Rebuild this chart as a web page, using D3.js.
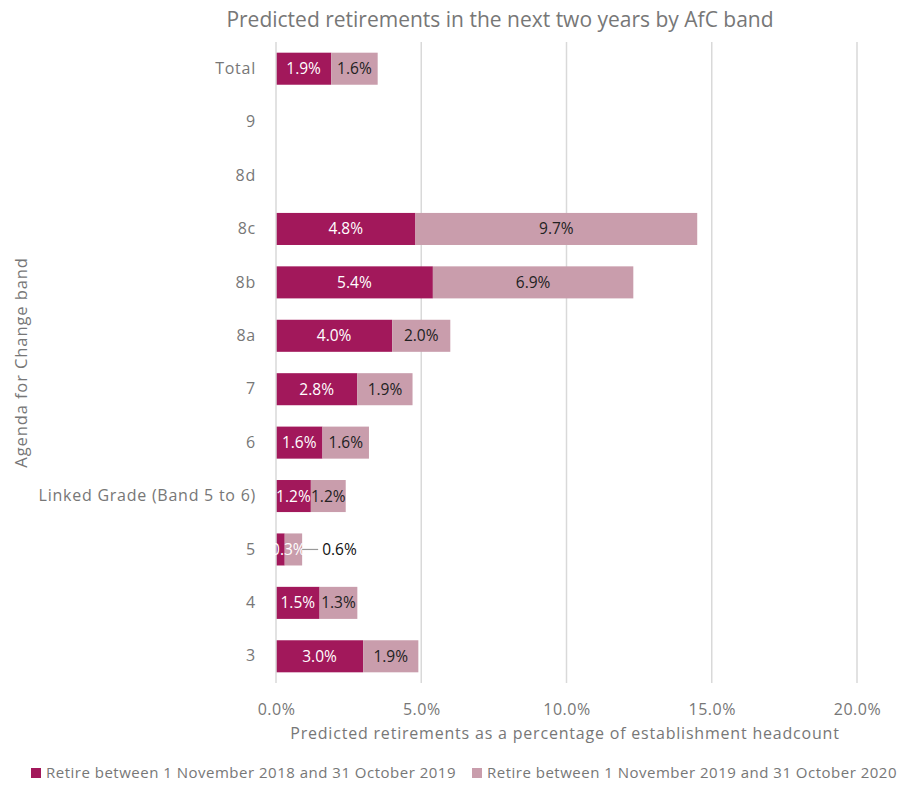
<!DOCTYPE html>
<html>
<head>
<meta charset="utf-8">
<script src="https://cdn.jsdelivr.net/npm/d3@7/dist/d3.min.js"></script>
<style>
  html, body { margin: 0; padding: 0; background: #fff; }
  svg { display: block; font-family: "Open Sans", "Noto Sans", sans-serif; }
</style>
</head>
<body>
<svg id="chart" width="903" height="785"></svg>
<script>
// AfC bands, top to bottom
const bands = ["Total", "9", "8d", "8c", "8b", "8a", "7", "6", "Linked Grade (Band 5 to 6)", "5", "4", "3"];
// Percent retiring 1 Nov 2018 – 31 Oct 2019 (null = no data)
const retire2019 = [1.9, null, null, 4.8, 5.4, 4.0, 2.8, 1.6, 1.2, 0.3, 1.5, 3.0];
// Percent retiring 1 Nov 2019 – 31 Oct 2020
const retire2020 = [1.6, null, null, 9.7, 6.9, 2.0, 1.9, 1.6, 1.2, 0.6, 1.3, 1.9];
const xTicks = [0, 5, 10, 15, 20];
const seriesNames = [
  "Retire between 1 November 2018 and 31 October 2019",
  "Retire between 1 November 2019 and 31 October 2020"
];

const colors = ["#A2185B", "#C99DAC"];
const svg = d3.select("#chart");
const plotL = 276, plotR = 857, plotT = 42, plotB = 683;

const x = d3.scaleLinear().domain([0, 20]).range([plotL, plotR]);
const y = d3.scaleBand().domain(bands).range([plotT, plotB]).paddingInner(0.4).paddingOuter(0.2);

// Title
svg.append("text")
  .attr("x", 500).attr("y", 27)
  .attr("text-anchor", "middle")
  .attr("font-size", 21)
  .attr("fill", "#777")
  .text("Predicted retirements in the next two years by AfC band");

// Vertical gridlines
svg.append("g").selectAll("line")
  .data(xTicks.slice(1))
  .join("line")
  .attr("x1", d => x(d)).attr("x2", d => x(d))
  .attr("y1", plotT).attr("y2", plotB)
  .attr("stroke", "#d9d9d9").attr("stroke-width", 1.5);

// X axis tick labels
const xAxis = d3.axisBottom(x).tickValues(xTicks).tickSize(0).tickFormat(d => d.toFixed(1) + "%");
const gx = svg.append("g").attr("transform", `translate(0,${plotB + 18})`).call(xAxis);
gx.select(".domain").remove();
gx.selectAll("text").attr("font-size", 16).attr("letter-spacing", 0.5)
  .attr("fill", "#777").attr("font-family", "Open Sans, sans-serif");

// Y axis labels
const yAxis = d3.axisLeft(y).tickSize(0).tickPadding(20);
const gy = svg.append("g").attr("transform", `translate(${plotL},0)`).call(yAxis);
gy.select(".domain").remove();
gy.selectAll("text").attr("font-size", 16).attr("letter-spacing", 0.75)
  .attr("fill", "#777").attr("font-family", "Open Sans, sans-serif");

// Stacked bars
const rows = bands.map((b, i) => ({ band: b, a: retire2019[i], b2: retire2020[i] }))
  .filter(d => d.a != null);

const barG = svg.append("g");
rows.forEach(d => {
  const y0 = y(d.band), h = y.bandwidth();
  barG.append("rect")
    .attr("x", x(0)).attr("y", y0)
    .attr("width", x(d.a) - x(0)).attr("height", h)
    .attr("fill", colors[0]);
  barG.append("rect")
    .attr("x", x(d.a)).attr("y", y0)
    .attr("width", x(d.a + d.b2) - x(d.a)).attr("height", h)
    .attr("fill", colors[1]);
});

// Axis line at zero
svg.append("line")
  .attr("x1", x(0)).attr("x2", x(0))
  .attr("y1", plotT).attr("y2", plotB)
  .attr("stroke", "#d9d9d9").attr("stroke-width", 1.5);

// Value labels
const labG = svg.append("g").attr("font-size", 15.5);
rows.forEach(d => {
  const cy = y(d.band) + y.bandwidth() / 2 + 5.5;
  labG.append("text")
    .attr("x", (x(0) + x(d.a)) / 2 + (d.a < 0.5 ? 8 : 0)).attr("y", cy)
    .attr("text-anchor", "middle").attr("fill", "#fff")
    .text(d.a.toFixed(1) + "%");
  const w = x(d.a + d.b2) - x(d.a);
  if (w > 25) {
    labG.append("text")
      .attr("x", (x(d.a) + x(d.a + d.b2)) / 2).attr("y", cy)
      .attr("text-anchor", "middle").attr("fill", "#222")
      .text(d.b2.toFixed(1) + "%");
  } else {
    const ex = x(d.a + d.b2);
    labG.append("line")
      .attr("x1", ex).attr("x2", ex + 16)
      .attr("y1", cy - 5.5).attr("y2", cy - 5.5)
      .attr("stroke", "#999").attr("stroke-width", 1.2);
    labG.append("text")
      .attr("x", ex + 20).attr("y", cy)
      .attr("fill", "#111")
      .text(d.b2.toFixed(1) + "%");
  }
});

// Axis titles
svg.append("text")
  .attr("x", 565).attr("y", 739)
  .attr("text-anchor", "middle").attr("font-size", 16).attr("letter-spacing", 0.8)
  .attr("fill", "#777")
  .text("Predicted retirements as a percentage of establishment headcount");

svg.append("text")
  .attr("transform", `translate(27,${(plotT + plotB) / 2}) rotate(-90)`)
  .attr("text-anchor", "middle").attr("font-size", 16.5).attr("letter-spacing", 0.9)
  .attr("fill", "#777")
  .text("Agenda for Change band");

// Legend
const legend = svg.append("g").attr("font-size", 15).attr("letter-spacing", 0.5).attr("fill", "#777");
const legX = [31, 472];
seriesNames.forEach((name, i) => {
  legend.append("rect")
    .attr("x", legX[i]).attr("y", 768).attr("width", 10).attr("height", 10)
    .attr("fill", colors[i]);
  legend.append("text")
    .attr("x", legX[i] + 15).attr("y", 778)
    .text(name);
});
</script>
</body>
</html>
